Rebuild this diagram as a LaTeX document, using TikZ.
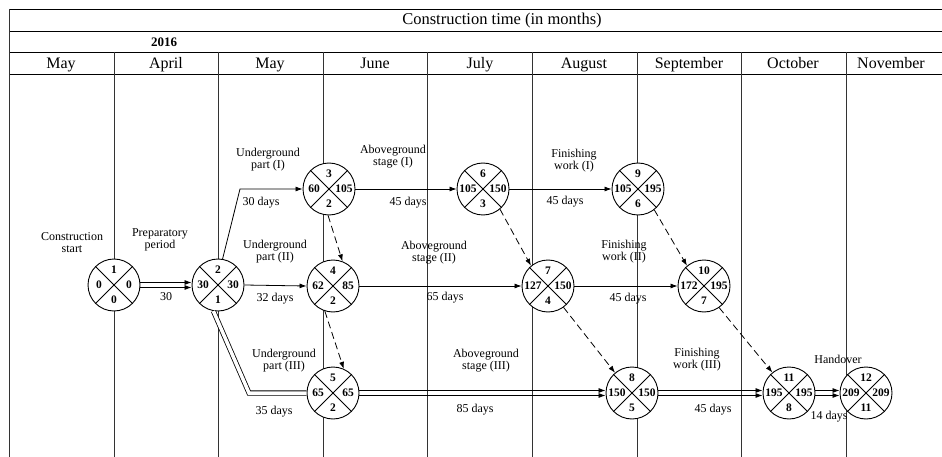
\documentclass[tikz,border=0pt]{standalone}
\usepackage{fontspec}
\setmainfont{Liberation Serif}
\usetikzlibrary{arrows.meta}
\newcommand\evnode[7]{%
  \node[ev] (#1) at (#2,#3) {};
  \draw[evx] (#1.north east) -- (#1.south west) (#1.north west) -- (#1.south east);
  \node[num] (#1-t) at ([yshift=15pt]#1.center) {#4};
  \node[num] (#1-l) at ([xshift=-15pt]#1.center) {#5};
  \node[num] (#1-r) at ([xshift=15pt]#1.center) {#6};
  \node[num] (#1-b) at ([yshift=-15pt]#1.center) {#7};
}
\begin{document}
\begin{tikzpicture}[x=1pt,y=-1pt,
  grid/.style={line width=0.7pt, black!80},
  hline/.style={line width=0.9pt},
  ev/.style={circle, draw, line width=0.9pt, fill=white, minimum size=52pt, inner sep=0pt},
  evx/.style={line width=0.8pt},
  num/.style={font=\fontsize{11.5}{11.5}\bfseries\selectfont, inner sep=0pt},
  lbl/.style={font=\fontsize{12}{12}\selectfont, align=center, inner sep=0pt},
  month/.style={font=\fontsize{16}{16}\selectfont, inner sep=0pt, anchor=base},
  act/.style={line width=0.8pt, -{Latex[length=7pt,width=5pt]}},
  dummy/.style={line width=0.8pt, dash pattern=on 7pt off 4pt, -{Latex[length=7pt,width=5pt]}},
  crit/.style={line width=0.8pt, double, double distance=3.5pt},
]
\useasboundingbox (0,0) rectangle (942,457);
% header
\draw[hline] (9,9) -- (942,9);
\draw[hline] (9,31) -- (942,31);
\draw[hline] (9,52) -- (942,52);
\draw[hline] (9,74) -- (942,74);
\draw[grid] (9,9) -- (9,457);
\foreach \x in {114,218,323,427,532,637,741,846} \draw[grid] (\x,52) -- (\x,457);
\node[font=\fontsize{16.5}{16.5}\selectfont, inner sep=0pt, anchor=base] (title) at (502,25) {Construction time (in months)};
\node[font=\fontsize{13}{13}\bfseries\selectfont, inner sep=0pt, anchor=base] (year) at (164,47) {2016};
\node[month] (m1) at (61,69) {May};
\node[month] (m2) at (166,69) {April};
\node[month] (m3) at (270,69) {May};
\node[month] (m4) at (375,69) {June};
\node[month] (m5) at (480,69) {July};
\node[month] (m6) at (584,69) {August};
\node[month] (m7) at (689,69) {September};
\node[month] (m8) at (793,69) {October};
\node[month] (m9) at (891,69) {November};
% events
\evnode{n1}{114}{285}{1}{0}{0}{0}
\evnode{n2}{218}{285}{2}{30}{30}{1}
\evnode{n3}{329}{189}{3}{60}{105}{2}
\evnode{n4}{333}{286}{4}{62}{85}{2}
\evnode{n5}{333}{393}{5}{65}{65}{2}
\evnode{n6}{483}{189}{6}{105}{150}{3}
\evnode{n7}{548}{286}{7}{127}{150}{4}
\evnode{n8}{632}{393}{8}{150}{150}{5}
\evnode{n9}{638}{189}{9}{105}{195}{6}
\evnode{n10}{704}{286}{10}{172}{195}{7}
\evnode{n11}{789}{393}{11}{195}{195}{8}
\evnode{n12}{866}{393}{12}{209}{209}{11}
% connectors
\coordinate (c23) at (240,189);
\coordinate (c25) at (249,393);
\draw[act] (n2.80) -- (c23) -- (n3.west);
\draw[act] (n2.east) -- (n4.west);
\draw[crit] (n2.-100) -- (c25) -- (n5.west);
\foreach \s in {2.5,-2.5} {
  \draw[act] ([yshift=\s pt]n1.east) -- ([yshift=\s pt]n2.west);
  \draw[act] ([yshift=\s pt]n5.east) -- ([yshift=\s pt]n8.west);
  \draw[act] ([yshift=\s pt]n8.east) -- ([yshift=\s pt]n11.west);
  \draw[act] ([yshift=\s pt]n11.east) -- ([yshift=\s pt]n12.west);
}
\draw[act] (n3.east) -- (n6.west);
\draw[act] (n6.east) -- (n9.west);
\draw[act] (n4.east) -- (n7.west);
\draw[act] (n7.east) -- (n10.west);
\draw[dummy] (n3.-92) -- (n4.69);
\draw[dummy] (n4.-108) -- (n5.66);
\draw[dummy] (n6.-50) -- (n7.130);
\draw[dummy] (n9.-52) -- (n10.130);
\draw[dummy] (n7.-54) -- (n8.130);
\draw[dummy] (n10.-55) -- (n11.129);
% labels
\node[lbl] (cstart) at (72,243) {Construction\\start};
\node[lbl] (prep) at (160,240) {Preparatory\\period};
\node[lbl] (l30) at (166,297) {30};
\node[lbl] (ug1) at (268,160) {Underground\\part (I)};
\node[lbl] (d30) at (261,203) {30 days};
\node[lbl] (ug2) at (275,252) {Underground\\part (II)};
\node[lbl] (d32) at (275,299) {32 days};
\node[lbl] (ug3) at (284,361) {Underground\\part (III)};
\node[lbl] (d35) at (274,412) {35 days};
\node[lbl] (ab1) at (393,157) {Aboveground\\stage (I)};
\node[lbl] (d45a) at (408,203) {45 days};
\node[lbl] (ab2) at (434,253) {Aboveground\\stage (II)};
\node[lbl] (d65) at (445,298) {65 days};
\node[lbl] (ab3) at (486,361) {Aboveground\\stage (III)};
\node[lbl] (d85) at (475,410) {85 days};
\node[lbl] (fw1) at (574,161) {Finishing\\work (I)};
\node[lbl] (d45b) at (565,202) {45 days};
\node[lbl] (fw2) at (624,252) {Finishing\\work (II)};
\node[lbl] (d45c) at (628,299) {45 days};
\node[lbl] (fw3) at (697,360) {Finishing\\work (III)};
\node[lbl] (d45d) at (713,410) {45 days};
\node[lbl] (hand) at (838,359) {Handover};
\node[lbl] (d14) at (829,417) {14 days};
\end{tikzpicture}
\end{document}
